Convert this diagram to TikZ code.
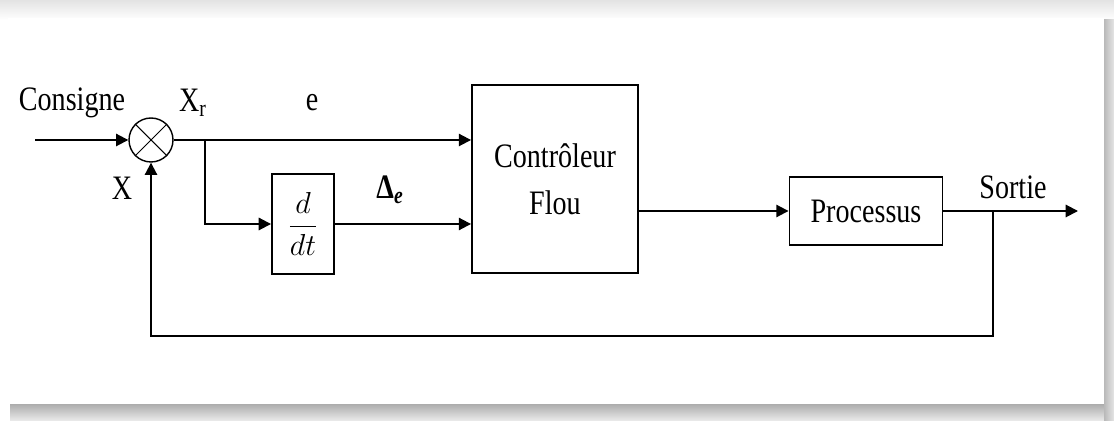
\documentclass[tikz,border=0pt]{standalone}
\usepackage{fontspec}
\setmainfont{Liberation Serif}[FakeStretch = 0.82]
\usetikzlibrary{arrows.meta}

\begin{document}
\begin{tikzpicture}[
									x = 0.02cm,
									y = -0.02cm,
									bloc/.style = {
										draw,
										rectangle,
										line width = 1.1pt,
										inner sep = 0,
										font = \fontsize{19.5}{23}\selectfont,
										align = center
									},
									somme/.style = {
										draw,
										circle,
										line width = 0.8pt,
										inner sep = 0,
										minimum size = 0.88cm
									},
									fl/.style = {
										line width = 1.1pt,
										-{Triangle[length = 7pt, width = 7pt]}
									},
									lbl/.style = {
										font = \fontsize{19.5}{23}\selectfont
									}
								]
							\useasboundingbox (0, 0) rectangle (1114, 421);

							\shade [top color = gray!22, bottom color = white] (0, 0) rectangle (1114, 20);
							\shade [top color = gray!65, bottom color = gray!15] (10, 404) rectangle (1114, 421);
							\shade [left color = gray!55, right color = gray!20] (1104, 20) rectangle (1114, 421);
							\fill [white] (8, 18) rectangle (1104, 404);

							\coordinate (entree) at (35, 140);
							\coordinate (br) at (205, 140);
							\coordinate (fb) at (993, 211);
							\coordinate (bas) at (993, 336);
							\coordinate (sortie) at (1078, 211);

							\node [somme] (sum) at (151, 140) {};
							\node [bloc, minimum width = 1.24cm, minimum height = 2.0cm, font = \fontsize{16}{19}\selectfont] (ddt) at (303, 224) {$\displaystyle\frac{d}{dt}$};
							\node [bloc, minimum width = 3.32cm, minimum height = 3.76cm] (ctrl) at (555, 179) {Contrôleur\\[4pt]Flou};
							\node [bloc, minimum width = 3.06cm, minimum height = 1.36cm] (proc) at (866, 211) {Processus};

							\draw [line width = 0.6pt] (sum.45) -- (sum.225) (sum.135) -- (sum.315);

							\node [lbl] (consigne) at (72, 103) {Consigne};
							\node [lbl] (xr) at (193, 103) {X\textsubscript{r}};
							\node [lbl] (e) at (312, 103) {e};
							\node [lbl] (x) at (122, 188) {X};
							\node [lbl] (de) at (390, 190) {\textbf{Δ}\textsubscript{\textbf{\textit{e}}}};
							\node [lbl] (sort) at (1013, 187) {Sortie};

							\draw [fl] (entree) -- (sum.west);
							\draw [fl] (sum.east) -- (ctrl.west |- sum);
							\draw [fl] (br) |- (ddt.west);
							\draw [fl] (ddt.east) -- (ctrl.west |- ddt);
							\draw [fl] (ctrl.east |- proc) -- (proc.west);
							\draw [fl] (proc.east) -- (sortie);
							\draw [fl] (fb) -- (bas) -| (sum.south);
						\end{tikzpicture}
\end{document}
